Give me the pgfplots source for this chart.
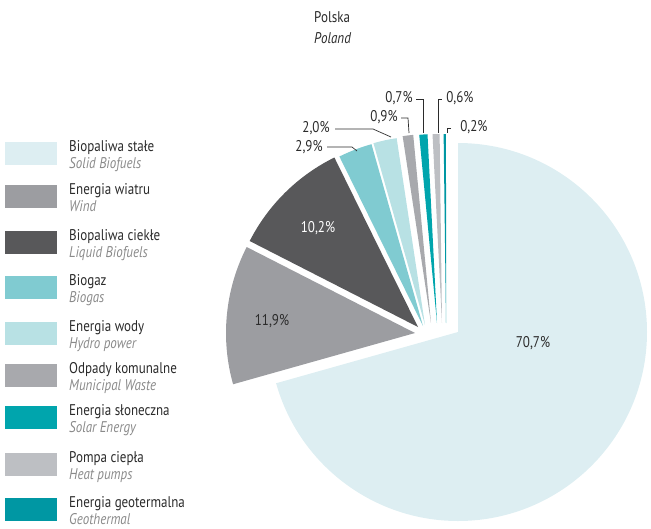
\documentclass[border=0pt]{standalone}
\usepackage{pgfplots}
\pgfplotsset{compat=1.18}
\usepackage{pgfplotstable}
\usepackage{fontspec}
\setmainfont{PT Sans}[FakeStretch=0.84]

\definecolor{cSolid}{HTML}{DDEEF2}
\definecolor{cWind}{HTML}{9C9DA1}
\definecolor{cLiquid}{HTML}{58585A}
\definecolor{cBiogas}{HTML}{80CBD1}
\definecolor{cHydro}{HTML}{B8E1E4}
\definecolor{cMunicipal}{HTML}{A8A9AD}
\definecolor{cSolar}{HTML}{00A5AD}
\definecolor{cHeat}{HTML}{BDBFC3}
\definecolor{cGeo}{HTML}{0097A3}
\definecolor{cText}{HTML}{2B2B2B}
\definecolor{cSub}{HTML}{8A8A8A}

% udział [%], kolor, wierzchołek wycinka (px)
\pgfplotstableread{
val  col        ax   ay
70.7 cSolid     458  332
11.9 cWind      415  333
10.2 cLiquid    418  327
2.9  cBiogas    423  326
2.0  cHydro     425  325
0.9  cMunicipal 431  323
0.7  cSolar     437  323
0.6  cHeat      442  323
0.2  cGeo       446  323
}\piedata

\newcommand\legitem[4]{%
  \fill[#1] (axis cs:5,#2) rectangle (axis cs:57,#2+23);
  \node[anchor=base west, inner sep=0pt, text=cText] at (axis cs:69,#2+9) {#3};
  \node[anchor=base west, inner sep=0pt, text=cSub] at (axis cs:69,#2+26) {\itshape #4};
}

\begin{document}
\begin{tikzpicture}[font=\fontsize{15.5}{17}\selectfont]
\begin{axis}[
    width=651pt, height=528pt, scale only axis,
    xmin=0, xmax=651, ymin=0, ymax=528, y dir=reverse,
    hide axis, clip=false,
]
    \path (axis cs:0,0) rectangle (axis cs:651,528);
    % wycinki kołowe, zgodnie z ruchem wskazówek od góry
    \pgfplotstablegetrowsof{\piedata}
    \pgfmathtruncatemacro\nlast{\pgfplotsretval-1}
    \def\cum{0}
    \pgfplotsforeachungrouped \i in {0,...,\nlast}{%
        \pgfplotstablegetelem{\i}{val}\of\piedata \let\sval\pgfplotsretval
        \pgfplotstablegetelem{\i}{col}\of\piedata \let\scol\pgfplotsretval
        \pgfplotstablegetelem{\i}{ax}\of\piedata \let\spx\pgfplotsretval
        \pgfplotstablegetelem{\i}{ay}\of\piedata \let\spy\pgfplotsretval
        \pgfmathsetmacro\aA{90-3.6*\cum/1.001}
        \pgfmathsetmacro\cum{\cum+\sval}
        \pgfmathsetmacro\aB{90-3.6*\cum/1.001}
        \edef\temp{\noexpand\fill[\scol] (axis cs:\spx,\spy) -- ++(\aA:189pt)
            arc[start angle=\aA, end angle=\aB, radius=189pt] -- cycle;}
        \temp
    }

    % etykiety wewnątrz
    \node[text=cText] at (axis cs:533,343) {70,7\%};
    \node[text=cText] at (axis cs:272,321) {11,9\%};
    \node[text=white] at (axis cs:318,228) {10,2\%};

    % etykiety z odnośnikami
    \begin{scope}[draw=cText, line width=0.7pt]
    \node[anchor=east, inner sep=0pt, text=cText] at (axis cs:323,147) {2,9\%};
    \draw (axis cs:327,147) -- (axis cs:352,147) -- (axis cs:357,151);
    \node[anchor=east, inner sep=0pt, text=cText] at (axis cs:330,128) {2,0\%};
    \draw (axis cs:335,129) -- (axis cs:373,129) -- (axis cs:391,137);
    \node[anchor=east, inner sep=0pt, text=cText] at (axis cs:398,117) {0,9\%};
    \draw (axis cs:401,118) -- (axis cs:408,118) -- (axis cs:409,133);
    \node[anchor=east, inner sep=0pt, text=cText] at (axis cs:413,98) {0,7\%};
    \draw (axis cs:416,99) -- (axis cs:423,99) -- (axis cs:423,133);
    \node[anchor=west, inner sep=0pt, text=cText] at (axis cs:446,98) {0,6\%};
    \draw (axis cs:442,99) -- (axis cs:438,99) -- (axis cs:438,133);
    \node[anchor=west, inner sep=0pt, text=cText] at (axis cs:460,127) {0,2\%};
    \draw (axis cs:451,128) -- (axis cs:447,128) -- (axis cs:447,133);
    \end{scope}

    % tytuł
    \node[anchor=base west, inner sep=0pt, text=cText] at (axis cs:314,22) {Polska};
    \node[anchor=base west, inner sep=0pt, text=cText] at (axis cs:314,43) {\itshape Poland};

    % legenda
    \legitem{cSolid}{142}{Biopaliwa stałe}{Solid Biofuels}
    \legitem{cWind}{185}{Energia wiatru}{Wind}
    \legitem{cLiquid}{231}{Biopaliwa ciekłe}{Liquid Biofuels}
    \legitem{cBiogas}{276}{Biogaz}{Biogas}
    \legitem{cHydro}{322}{Energia wody}{Hydro power}
    \legitem{cMunicipal}{364}{Odpady komunalne}{Municipal Waste}
    \legitem{cSolar}{406}{Energia słoneczna}{Solar Energy}
    \legitem{cHeat}{453}{Pompa ciepła}{Heat pumps}
    \legitem{cGeo}{498}{Energia geotermalna}{Geothermal}
\end{axis}
\end{tikzpicture}
\end{document}
